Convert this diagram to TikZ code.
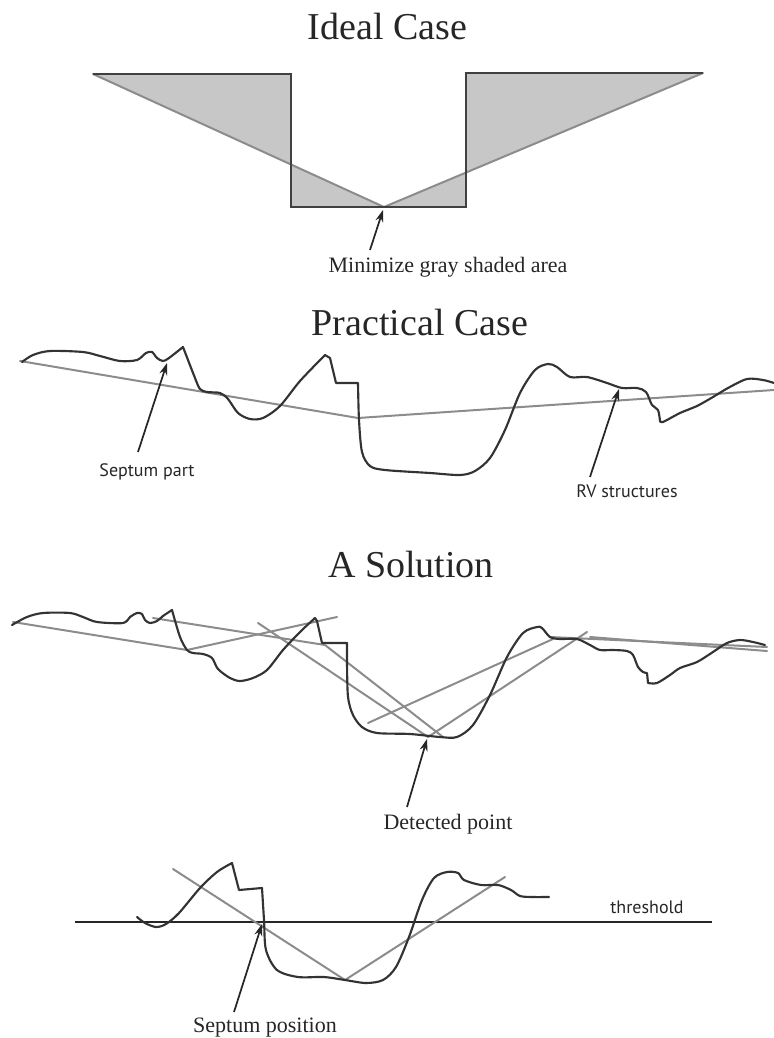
\documentclass[tikz,border=0pt]{standalone}
\usepackage{fontspec}
\setmainfont{Liberation Serif}
\newfontfamily\labelsans{PT Sans}
\usetikzlibrary{arrows.meta}
\begin{document}
\begin{tikzpicture}[x=0.75pt,y=-0.75pt,
  title/.style={font=\fontsize{28.5}{30}\selectfont, anchor=base, inner sep=0pt, text=black!85},
  note/.style={font=\fontsize{16.5}{18}\selectfont, anchor=base, inner sep=0pt, text=black!85},
  tag/.style={font=\labelsans\fontsize{13.5}{15}\selectfont, anchor=base, inner sep=0pt, text=black!85},
  profile/.style={draw=black!80, line width=1.6pt, line join=round, line cap=round},
  fitline/.style={draw=black!45, line width=1.5pt, line cap=round},
  stepline/.style={draw=black!75, line width=2pt, line join=miter},
  pointer/.style={draw=black!85, line width=1.3pt, -{Stealth[length=9pt,width=6pt]}},
  area/.style={fill=black!22},
]
\useasboundingbox (0,0) rectangle (774,1038);

% ---------- Ideal case ----------
\node[title] (t1) at (387.5,40) {Ideal Case};
\coordinate (L0) at (93,74);
\coordinate (L1) at (291,74);
\coordinate (L2) at (291,207);
\coordinate (R2) at (466,207);
\coordinate (R1) at (466,73);
\coordinate (R0) at (703,73);
\coordinate (V)  at (384,207);
\coordinate (LX) at (291,164.5);
\coordinate (RX) at (466,172.6);
\fill[area] (L0) -- (L1) -- (LX) -- cycle;
\fill[area] (LX) -- (V) -- (L2) -- cycle;
\fill[area] (R1) -- (R0) -- (RX) -- cycle;
\fill[area] (V) -- (R2) -- (RX) -- cycle;
\draw[fitline] (L0) -- (V) -- (R0);
\draw[stepline] (L0) -- (L1) -- (L2) -- (R2) -- (R1) -- (R0);
\node[note] (n1) at (448,272) {Minimize gray shaded area};
\coordinate (n1tail) at (370,250);
\draw[pointer] (n1tail) -- (383,210);

% ---------- Practical case ----------
\node[title] (t2) at (420,335) {Practical Case};
\draw[fitline] (20,361) -- (358,418) -- (774,390);
\draw[profile] plot[smooth, tension=0.5] coordinates {(22,362) (33,355) (50,351) (83,352) (100,356) (120,361) (137,360) (146,353) (152,352) (157,358) (163,361) (169,358) (183,347)}
  -- plot[smooth, tension=0.5] coordinates {(183,347) (195,378) (200,389) (207,392) (220,393) (228,399) (238,413) (250,419) (263,418) (280,406) (300,381) (325,355)}
  -- (330,358) -- (336,383) -- (358,383)
  -- plot[smooth, tension=0.5] coordinates {(358,383) (359,420) (362,452) (370,466) (385,470) (430,473) (460,475) (475,471) (490,458) (505,430) (520,393) (535,370) (548,364) (557,367) (570,377) (587,377) (607,383) (622,388) (637,388) (646,392) (652,405) (658,410) (660,421)}
  -- plot[smooth, tension=0.5] coordinates {(660,421) (663,422) (680,413) (697,406) (713,397) (728,388) (747,379) (763,380) (774,383)};
\node[tag] (sp) at (147,476) {Septum part};
\coordinate (sptail) at (138,452);
\draw[pointer] (sptail) -- (167,363);
\node[tag] (rv) at (627,497) {RV structures};
\coordinate (rvtail) at (590,477);
\draw[pointer] (rvtail) -- (619,389);

% ---------- A solution ----------
\node[title] (t3) at (411,577) {A Solution};
\draw[fitline] (13,622) -- (187,650) -- (337,617);
\draw[fitline] (153,618) -- (325,645) -- (443,737);
\draw[fitline] (258,623) -- (428,737) -- (587,632);
\draw[fitline] (368,723) -- (553,639);
\draw[fitline] (550,637) -- (767,647);
\draw[fitline] (590,637) -- (767,651);
\draw[profile] plot[smooth, tension=0.5] coordinates {(12,625) (27,617) (43,613) (70,613) (83,617) (97,622) (123,623) (130,617) (137,613) (142,614) (145,620) (150,623) (157,621) (163,616) (172,610)}
  -- plot[smooth, tension=0.5] coordinates {(172,610) (180,637) (187,650) (193,653) (203,654) (212,658) (218,669) (230,678) (240,681) (253,678) (267,670) (283,650) (300,632) (315,618)}
  -- (317,621) -- (322,643) -- (347,643)
  -- plot[smooth, tension=0.5] coordinates {(347,643) (347,663) (348,697) (353,715) (362,727) (377,733) (410,734) (440,737) (457,737) (473,725) (490,695) (507,657) (523,633) (537,627) (542,628) (550,637) (560,639) (577,639) (590,645) (600,650) (613,650) (627,651) (633,655) (638,667) (643,672) (647,673)}
  -- (648,683)
  -- plot[smooth, tension=0.5] coordinates {(648,683) (657,683) (670,675) (680,668) (697,662) (713,652) (727,643) (740,640) (753,642) (765,645)};
\node[note] (dp) at (448,829) {Detected point};
\coordinate (dptail) at (407,807);
\draw[pointer] (dptail) -- (427,739);

% ---------- Threshold view ----------
\coordinate (th0) at (75,922);
\coordinate (th1) at (712,922);
\draw[draw=black!85, line width=2pt] (th0) -- (th1);
\node[tag] (th) at (647,913) {threshold};
\draw[fitline] (173,869) -- (345,980) -- (505,877);
\draw[profile] plot[smooth, tension=0.5] coordinates {(137,917) (145,923) (156,927) (166,924) (179,913) (200,888) (217,872) (232,863)}
  -- (239,890) -- (262,888)
  -- plot[smooth, tension=0.5] coordinates {(262,888) (264,920) (266,950) (277,970) (298,977) (324,977) (345,980) (366,983) (383,980) (396,967) (409,937) (422,900) (434,878) (447,872) (458,873) (464,880) (481,885) (498,885) (511,890) (520,896) (532,897) (549,897)};
\node[note] (spos) at (265,1032) {Septum position};
\coordinate (spostail) at (234,1012);
\draw[pointer] (spostail) -- (262,924);
\end{tikzpicture}
\end{document}
